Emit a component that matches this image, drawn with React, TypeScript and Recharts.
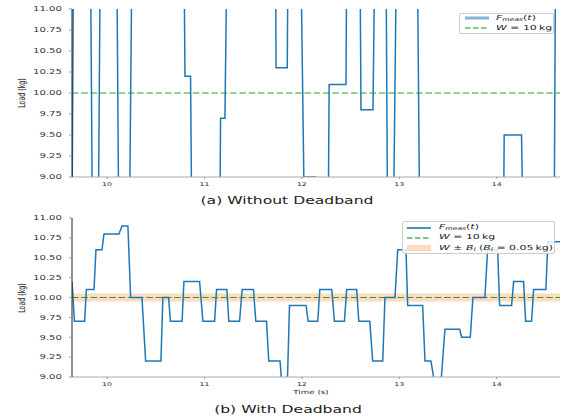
import React from 'react';
import { LineChart, Line, XAxis, YAxis, ReferenceLine, ReferenceArea } from 'recharts';

// sampled load without deadband (values beyond the 9..11 window are clipped)
const tRaw = [9.64, 9.655, 9.83, 9.85, 9.91, 9.93, 10.1, 10.12, 10.23, 10.255, 10.79, 10.8, 10.857, 10.87, 11.158, 11.165, 11.21, 11.23, 11.73, 11.735, 11.85, 11.857, 11.99, 12.02, 12.14, 12.15, 12.27, 12.28, 12.453, 12.46, 12.597, 12.607, 12.73, 12.748, 12.864, 12.88, 12.94, 12.97, 13.186, 13.21, 14.07, 14.077, 14.255, 14.27, 14.59, 14.604, 14.65];
const fRaw = [8.4, 11.6, 11.6, 8.4, 8.4, 11.6, 11.6, 8.4, 8.4, 11.6, 11.6, 10.2, 10.2, 8.4, 8.4, 9.7, 9.7, 11.6, 11.6, 10.3, 10.3, 11.6, 11.6, 9.0, 9.0, 8.4, 8.4, 10.1, 10.1, 11.6, 11.6, 9.8, 9.8, 11.6, 11.6, 8.4, 8.4, 11.6, 11.6, 8.4, 8.4, 9.5, 9.5, 8.4, 8.4, 11.6, 11.6];

// sampled load with deadband
const tDb = [9.64, 9.665, 9.77, 9.787, 9.866, 9.886, 9.948, 9.968, 10.122, 10.153, 10.214, 10.242, 10.358, 10.396, 10.553, 10.573, 10.632, 10.65, 10.77, 10.789, 10.95, 10.984, 11.104, 11.124, 11.23, 11.25, 11.36, 11.387, 11.503, 11.527, 11.637, 11.66, 11.776, 11.8, 11.848, 11.873, 12.043, 12.064, 12.163, 12.184, 12.307, 12.334, 12.437, 12.46, 12.563, 12.584, 12.697, 12.727, 12.83, 12.853, 12.956, 12.984, 13.069, 13.086, 13.24, 13.264, 13.325, 13.38, 13.42, 13.469, 13.62, 13.64, 13.729, 13.756, 13.879, 13.907, 14.01, 14.03, 14.153, 14.174, 14.276, 14.297, 14.358, 14.379, 14.505, 14.525, 14.65];
const fDb = [10.2, 9.7, 9.7, 10.1, 10.1, 10.6, 10.6, 10.8, 10.8, 10.9, 10.9, 10.0, 10.0, 9.2, 9.2, 10.0, 10.0, 9.7, 9.7, 10.2, 10.2, 9.7, 9.7, 10.1, 10.1, 9.7, 9.7, 10.1, 10.1, 9.7, 9.7, 9.2, 9.2, 8.8, 8.8, 9.9, 9.9, 9.7, 9.7, 10.1, 10.1, 9.7, 9.7, 10.1, 10.1, 9.7, 9.7, 9.2, 9.2, 10.0, 10.0, 10.6, 10.6, 9.9, 9.9, 9.2, 9.2, 8.8, 8.8, 9.6, 9.6, 9.5, 9.5, 10.0, 10.0, 10.6, 10.6, 9.9, 9.9, 10.2, 10.2, 9.7, 9.7, 10.1, 10.1, 10.7, 10.7];

const xTicks = [10, 11, 12, 13, 14];
const yTicks = [9, 9.25, 9.5, 9.75, 10, 10.25, 10.5, 10.75, 11];
const xDomain = [9.64, 14.65];
const yDomain = [9, 11];
const weight = 10;
const band = 0.05;

const SX = 1.56; // the figure is stretched horizontally
const FONT = '"DejaVu Sans", sans-serif';

const YTick = (props: any) => {
  const { x, y, payload } = props;
  return (
    <text transform={`translate(${x},${y}) scale(${SX},1)`} textAnchor="end" dy="0.355em" fontSize={6.5} fill="#333" fontFamily={FONT}>
      {payload.value.toFixed(2)}
    </text>
  );
};

const XTick = (props: any) => {
  const { x, y, payload } = props;
  return (
    <text transform={`translate(${x},${y}) scale(${SX},1)`} textAnchor="middle" dy="0.71em" fontSize={5} fill="#333" fontFamily={FONT}>
      {payload.value}
    </text>
  );
};

const Txt = ({ x, y, size, children, rotate }: any) => (
  <div
    style={{
      position: 'absolute', left: x, top: y, fontSize: size, lineHeight: 1, whiteSpace: 'nowrap',
      fontFamily: FONT, color: '#222',
      transform: `translate(-50%,-50%) scaleX(${SX})${rotate ? ' rotate(-90deg)' : ''}`,
    }}
  >
    {children}
  </div>
);

const Panel = ({ t, f, height, xAxisHeight, withBand }: any) => {
  const data = t.map((v: number, i: number) => ({ t: v, f: f[i] }));
  return (
    <LineChart width={561} height={height} data={data} margin={{ top: 9, right: 1, bottom: 0, left: 0 }}>
      <XAxis dataKey="t" type="number" domain={xDomain} ticks={xTicks} interval={0} allowDataOverflow height={xAxisHeight}
        tick={<XTick />} tickSize={2} tickMargin={3} axisLine={{ stroke: '#aaa' }} tickLine={{ stroke: '#999' }} />
      <XAxis xAxisId="top" orientation="top" type="number" domain={xDomain} height={0} tick={false} tickLine={false} axisLine={{ stroke: '#888' }} />
      <YAxis type="number" domain={yDomain} ticks={yTicks} interval={0} allowDataOverflow width={72}
        tick={<YTick />} tickSize={3} tickMargin={7} axisLine={{ stroke: '#222' }} tickLine={{ stroke: '#999' }} />
      <YAxis yAxisId="right" orientation="right" type="number" domain={yDomain} width={0} tick={false} tickLine={false} axisLine={{ stroke: '#888' }} />
      {withBand && (
        <ReferenceArea y1={weight - band} y2={weight + band} fill="#fddcbf" fillOpacity={1} stroke="none" />
      )}
      <ReferenceLine y={weight} stroke="#2ca02c" strokeWidth={1.2} strokeDasharray="6.5 2.8" />
      <Line type="linear" dataKey="f" stroke="#1f77b4" strokeWidth={1.5} dot={false} isAnimationActive={false} />
    </LineChart>
  );
};

const Sample = ({ kind }: { kind: string }) => (
  <svg width={24} height={6} style={{ display: 'block' }}>
    {kind === 'line' && <line x1={0} y1={3} x2={24} y2={3} stroke="#1f77b4" strokeWidth={1.6} />}
    {kind === 'lineLight' && <line x1={0} y1={3} x2={24} y2={3} stroke="#1f77b4" strokeOpacity={0.55} strokeWidth={3} />}
    {kind === 'dash' && <line x1={0} y1={3} x2={24} y2={3} stroke="#2ca02c" strokeOpacity={0.6} strokeWidth={2} strokeDasharray="5.5 2.5" />}
    {kind === 'patch' && <rect x={0} y={0.5} width={24} height={5} fill="#fddcbf" stroke="#fbc89c" strokeWidth={0.6} />}
  </svg>
);

const LegendBox = ({ left, top, width, height, rows }: any) => (
  <div style={{ position: 'absolute', left, top, width, height, boxSizing: 'border-box', border: '0.8px solid #ccc', borderRadius: 2, background: 'rgba(255,255,255,0.8)' }}>
    {rows.map((r: any, i: number) => (
      <div key={i} style={{ position: 'absolute', left: 4.5, top: r.cy - 3, height: 6, display: 'flex', alignItems: 'center' }}>
        <Sample kind={r.kind} />
        <div style={{ marginLeft: 7.5, fontSize: 7, lineHeight: 1, fontFamily: FONT, color: '#222', whiteSpace: 'nowrap', transform: `scaleX(${SX})`, transformOrigin: 'left center' }}>
          {r.label}
        </div>
      </div>
    ))}
  </div>
);

const fMeas = <span><i>F</i><sub style={{ fontSize: '0.7em', verticalAlign: '-0.25em' }}><i>meas</i></sub>(<i>t</i>)</span>;
const wLabel = <span><i>W</i> = 10&thinsp;kg</span>;
const bandLabel = <span><i>W</i> ± <i>B</i><sub style={{ fontSize: '0.7em', verticalAlign: '-0.25em' }}><i>l</i></sub> (<i>B</i><sub style={{ fontSize: '0.7em', verticalAlign: '-0.25em' }}><i>l</i></sub> = 0.05&thinsp;kg)</span>;

export default function App() {
  return (
    <div style={{ position: 'absolute', left: 0, top: 0, width: 561, height: 418, background: '#fff', overflow: 'hidden' }}>
      <div style={{ position: 'absolute', left: 0, top: 0 }}>
        <Panel t={tRaw} f={fRaw} height={209} xAxisHeight={32} withBand={false} />
      </div>
      <div style={{ position: 'absolute', left: 0, top: 209 }}>
        <Panel t={tDb} f={fDb} height={209} xAxisHeight={41} withBand />
      </div>

      <Txt x={22} y={93} size={6.3} rotate>Load (kg)</Txt>
      <Txt x={22} y={298} size={6.3} rotate>Load (kg)</Txt>
      <Txt x={311} y={393} size={5.6}>Time (s)</Txt>
      <Txt x={287} y={200.5} size={10}>(a) Without Deadband</Txt>
      <Txt x={287.5} y={410} size={10}>(b) With Deadband</Txt>

      <LegendBox left={459} top={12.5} width={95} height={21.5}
        rows={[{ cy: 4.8, kind: 'lineLight', label: fMeas }, { cy: 14.8, kind: 'dash', label: wLabel }]} />
      <LegendBox left={401.5} top={220.5} width={153} height={33}
        rows={[{ cy: 6, kind: 'line', label: fMeas }, { cy: 16.2, kind: 'dash', label: wLabel }, { cy: 26.6, kind: 'patch', label: bandLabel }]} />
    </div>
  );
}
